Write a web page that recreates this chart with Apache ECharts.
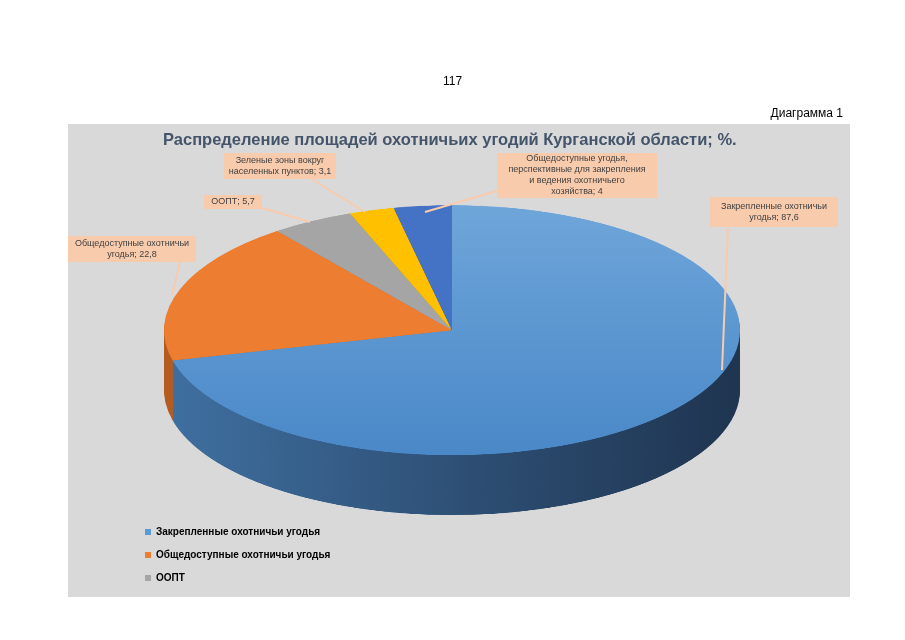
<!DOCTYPE html><html><head><meta charset="utf-8">
<script src="https://cdn.jsdelivr.net/npm/echarts@6/dist/echarts.min.js"></script>
<style>body{margin:0;width:905px;height:640px;background:#fff;position:relative;overflow:hidden;font-family:Arial,"Liberation Sans",sans-serif}
#panel{position:absolute;left:68px;top:124px;width:782px;height:473px;background:#d9d9d9}
#pie{position:absolute;left:0;top:200px;width:905px;height:800px;transform:scaleY(0.434);transform-origin:50% 0}
#ov{position:absolute;left:0;top:0;width:905px;height:640px}
</style></head><body>
<div id="panel"></div><div id="pie"></div><div id="ov"></div>
<script>
const categories=['Закрепленные охотничьи угодья','Общедоступные охотничьи угодья','ООПТ','Зеленые зоны вокруг населенных пунктов','Общедоступные угодья, перспективные для закрепления и ведения охотничьего хозяйства'];
const values=[87.6,22.8,5.7,3.1,4];
const valueLabels=['87,6','22,8','5,7','3,1','4'];
const topColors=['#5b9bd5','#ed7d31','#a5a5a5','#ffc000','#4472c4'];
const sideColors=['#2b4a6e','#b55d20','#7a7a7a','#c09000','#2f4f8f'];
const legendItems=['Закрепленные охотничьи угодья','Общедоступные охотничьи угодья','ООПТ'];

const pie=echarts.init(document.getElementById('pie'));
const series=[];
const layers=30,depth=138,cy=300;
const blueSide=new echarts.graphic.LinearGradient(0,0,1,0,[{offset:0,color:'#3f6f9f'},{offset:0.6,color:'#2b4a6e'},{offset:1,color:'#1f3550'}]);
for(let k=layers;k>=1;k--){
  series.push({type:'pie',silent:true,radius:288,center:[452,cy+depth*k/layers],startAngle:90,label:{show:false},animation:false,
    data:values.map((v,i)=>({value:v,name:categories[i],itemStyle:{color:i===0?blueSide:sideColors[i]}}))});
}
series.push({type:'pie',silent:true,radius:288,center:[452,cy],startAngle:90,label:{show:false},animation:false,
  data:values.map((v,i)=>({value:v,name:categories[i],itemStyle:{color:i===0?new echarts.graphic.LinearGradient(0,0,0,1,[{offset:0,color:'#6fa6da'},{offset:1,color:'#4a88c8'}]):topColors[i]}}))});
pie.setOption({animation:false,series});

const ov=echarts.init(document.getElementById('ov'));
function box(x,y,w,h,text){return {type:'group',children:[
  {type:'rect',shape:{x:x,y:y,width:w,height:h},style:{fill:'#f8cbad'}},
  {type:'text',style:{x:x+w/2,y:y+h/2,text:text,fill:'#404040',font:'9px Arial',align:'center',verticalAlign:'middle',lineHeight:11}}]};}
function lead(pts){return {type:'polyline',shape:{points:pts},style:{stroke:'#f8cbad',lineWidth:2}};}
ov.setOption({animation:false,
  legend:{orient:'vertical',left:140,top:522,itemGap:13,icon:'rect',itemWidth:6,itemHeight:6,data:legendItems,
    textStyle:{fontSize:10,fontWeight:'bold',color:'#000'}},
  series:[{type:'pie',radius:0,center:[-100,-100],label:{show:false},data:values.map((v,i)=>({value:v,name:categories[i],itemStyle:{color:topColors[i]}}))}],
  graphic:[
    {type:'text',left:'center',top:76,style:{text:'117',font:'12px Arial',fill:'#000'}},
    {type:'text',right:62,top:108,style:{text:'Диаграмма 1',font:'12px Arial',fill:'#000'}},
    {type:'text',left:163,top:132,style:{text:'Распределение площадей охотничьих угодий Курганской области; %.',font:'bold 16.5px Arial',fill:'#44546a'}},
    lead([[728,228],[722,370]]), box(710,197,128,30,'Закрепленные охотничьи\nугодья; '+valueLabels[0]),
    lead([[180,262],[172,295]]), box(68,236,128,26,'Общедоступные охотничьи\nугодья; '+valueLabels[1]),
    lead([[262,208],[310,222]]), box(204,195,58,14,'ООПТ; '+valueLabels[2]),
    lead([[310,178],[365,212]]), box(224,153,112,26,'Зеленые зоны вокруг\nнаселенных пунктов; '+valueLabels[3]),
    lead([[500,190],[425,212]]), box(497,153,160,45,'Общедоступные угодья,\nперспективные для закрепления\nи ведения охотничьего\nхозяйства; '+valueLabels[4])
  ]});
</script></body></html>
